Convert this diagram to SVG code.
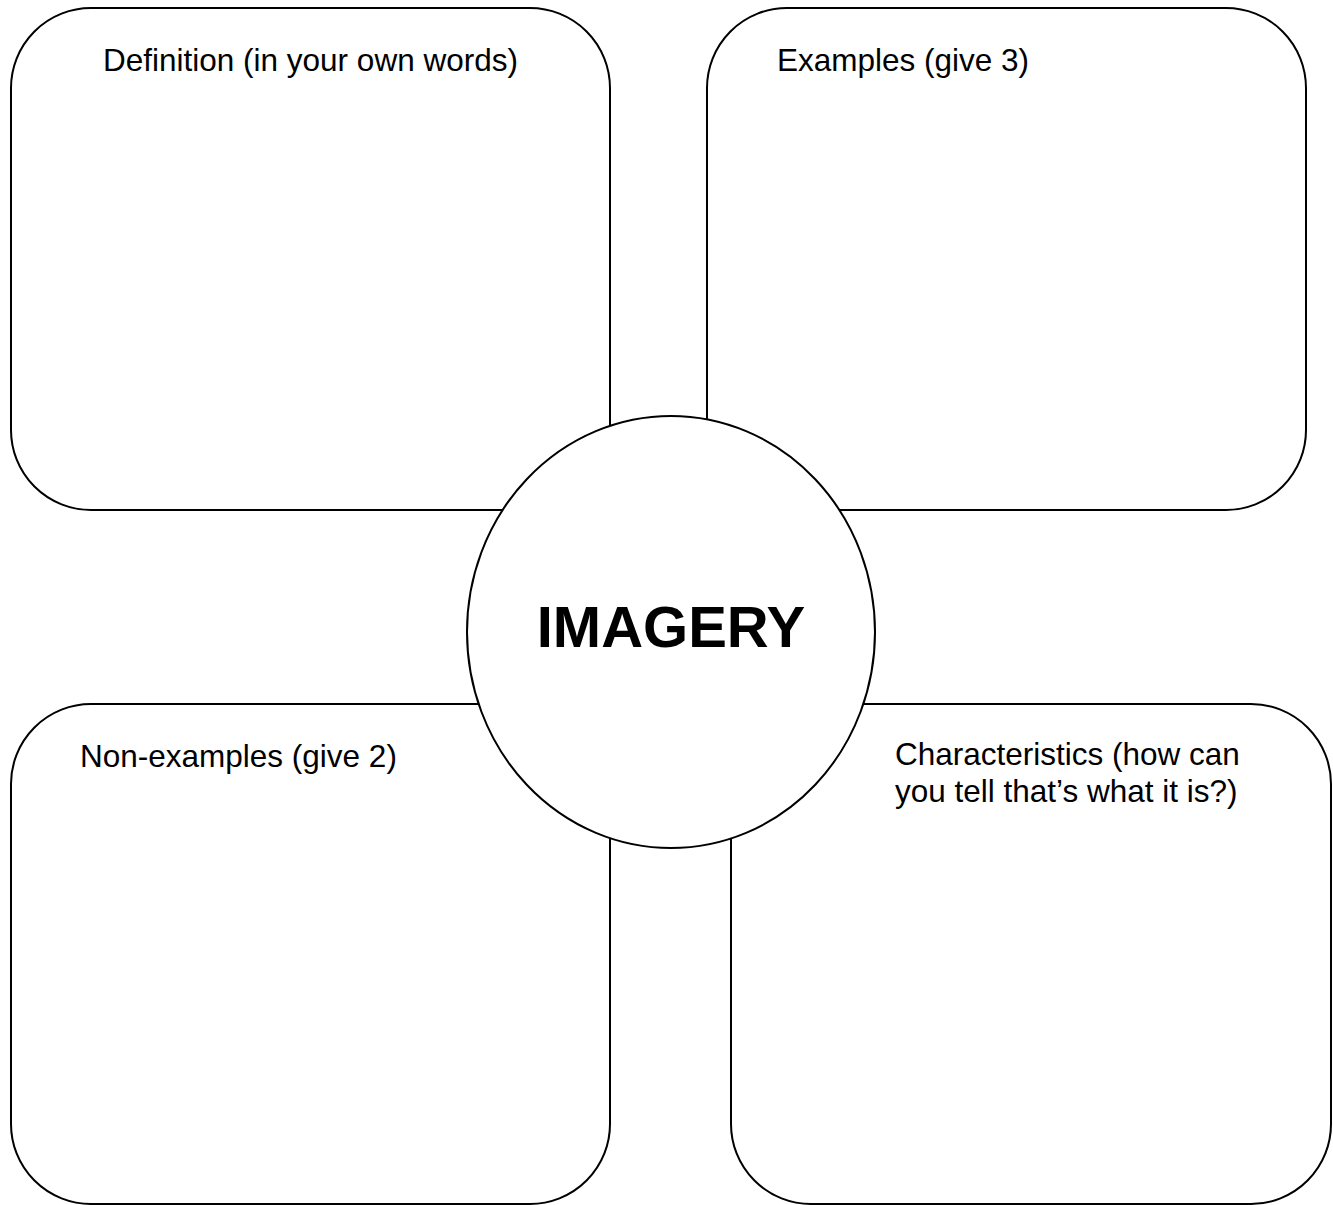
<svg xmlns="http://www.w3.org/2000/svg" width="1333" height="1205" viewBox="0 0 1333 1205">
<style>
.box{fill:#fff;stroke:#000;stroke-width:2}
.lbl{font-family:"Liberation Sans",Arial,sans-serif;font-size:31.5px;fill:#000}
.title{font-family:"Liberation Sans",Arial,sans-serif;font-size:58px;font-weight:bold;fill:#000}
</style>
<rect width="1333" height="1205" fill="#fff"/>
<g id="definition">
<rect class="box" x="11" y="8" width="599" height="502" rx="80" ry="80"/>
<text class="lbl" x="103" y="71">Definition (in your own words)</text>
</g>
<g id="examples">
<rect class="box" x="707" y="8" width="599" height="502" rx="80" ry="80"/>
<text class="lbl" x="777" y="71">Examples (give 3)</text>
</g>
<g id="non-examples">
<rect class="box" x="11" y="704" width="599" height="500" rx="80" ry="80"/>
<text class="lbl" x="80" y="767">Non-examples (give 2)</text>
</g>
<g id="characteristics">
<rect class="box" x="731" y="704" width="600" height="500" rx="80" ry="80"/>
<text class="lbl" x="895" y="765">Characteristics (how can</text>
<text class="lbl" x="895" y="802">you tell that’s what it is?)</text>
</g>
<g id="imagery">
<ellipse class="box" cx="671" cy="632" rx="204" ry="216"/>
<text class="title" x="671" y="647" text-anchor="middle">IMAGERY</text>
</g>
<g id="connectors"></g>
</svg>
